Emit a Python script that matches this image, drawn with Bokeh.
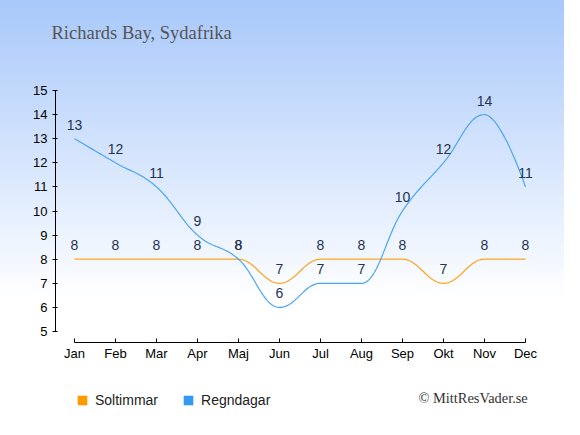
from bokeh.plotting import figure
from bokeh.layouts import column
from bokeh.models import (ColumnDataSource, FixedTicker, Label, Legend, LegendItem,
                          Range1d)
from bokeh.core.properties import value
from bokeh.embed import file_html
from bokeh.resources import INLINE

# ---- data ----
months = ["Jan", "Feb", "Mar", "Apr", "Maj", "Jun", "Jul", "Aug", "Sep", "Okt", "Nov", "Dec"]
soltimmar = [8, 8, 8, 8, 8, 7, 8, 8, 8, 7, 8, 8]
regndagar = [13, 12, 11, 9, 8, 6, 7, 7, 10, 12, 14, 11]
y_ticks = [5, 6, 7, 8, 9, 10, 11, 12, 13, 14, 15]
title_text = "Richards Bay, Sydafrika"
credit_text = "\u00a9 MittResVader.se"
series_names = ["Soltimmar", "Regndagar"]

ORANGE = "#ff9900"
BLUE = "#3399ee"
ORANGE_LINE = "#ffa21c"
BLUE_LINE = "#4ca5f0"
LABEL_COLOR = "#243352"
SANS = "Liberation Sans"
SERIF = "Liberation Serif"


def spline(xs, ys, smoothing=1.5, steps=24):
    """Smooth curve through the points (Highcharts-style cubic Bezier)."""
    n = len(xs)
    lc = [None] * n
    rc = [None] * n
    d = smoothing + 1
    for i in range(1, n - 1):
        px, py = xs[i], ys[i]
        lx, ly = xs[i - 1], ys[i - 1]
        nx, ny = xs[i + 1], ys[i + 1]
        lcx, lcy = (smoothing * px + lx) / d, (smoothing * py + ly) / d
        rcx, rcy = (smoothing * px + nx) / d, (smoothing * py + ny) / d
        if rcx != lcx:
            corr = ((rcy - lcy) * (rcx - px)) / (rcx - lcx) + py - rcy
            lcy += corr
            rcy += corr
        if lcy > ly and lcy > py:
            lcy = max(ly, py); rcy = 2 * py - lcy
        elif lcy < ly and lcy < py:
            lcy = min(ly, py); rcy = 2 * py - lcy
        if rcy > ny and rcy > py:
            rcy = max(ny, py); lcy = 2 * py - rcy
        elif rcy < ny and rcy < py:
            rcy = min(ny, py); lcy = 2 * py - rcy
        lc[i] = (lcx, lcy)
        rc[i] = (rcx, rcy)
    outx, outy = [xs[0]], [ys[0]]
    for i in range(1, n):
        p0 = (xs[i - 1], ys[i - 1])
        p3 = (xs[i], ys[i])
        p1 = rc[i - 1] or p0
        p2 = lc[i] or p3
        for k in range(1, steps + 1):
            t = k / steps
            a = (1 - t) ** 3
            b = 3 * (1 - t) ** 2 * t
            c = 3 * (1 - t) * t ** 2
            e = t ** 3
            outx.append(a * p0[0] + b * p1[0] + c * p2[0] + e * p3[0])
            outy.append(a * p0[1] + b * p1[1] + c * p2[1] + e * p3[1])
    return outx, outy


def strip(height):
    f = figure(width=564, height=height, output_backend="svg", toolbar_location=None,
               x_range=Range1d(0, 1), y_range=Range1d(0, 1),
               x_axis_location=None, y_axis_location=None,
               min_border_left=0, min_border_right=0, min_border_top=0,
               min_border_bottom=0)
    f.frame_align = False
    f.grid.visible = False
    f.outline_line_color = None
    return f


xs = list(range(len(months)))

# ---------------- title strip ----------------
TITLE_H = 60
t = strip(TITLE_H)
t.background_fill_color = None
t.border_fill_color = None
t.styles = {"background-image": "linear-gradient(to bottom, #a8c8fa 0px, #b9d3fb 60px)"}
t.add_layout(Label(x=51, y=TITLE_H - 32, x_units="screen", y_units="screen",
                   text=title_text, text_font=SERIF, text_font_size="18.5px",
                   text_color="#555555", text_baseline="middle"))

# ---------------- main chart ----------------
MAIN_H = 310
p = figure(width=564, height=MAIN_H, output_backend="svg", toolbar_location=None,
           x_range=Range1d(-0.463, 11.488), y_range=Range1d(4.544, 16.245),
           min_border_left=55, min_border_right=19, min_border_top=0,
           min_border_bottom=28)
p.frame_align = False
p.background_fill_color = None
p.border_fill_color = None
p.outline_line_color = None
p.styles = {"background-image": "linear-gradient(to bottom, #b9d3fb 0px, #ffffff 240px)"}
p.grid.visible = False

xa = p.xaxis[0]
xa.ticker = FixedTicker(ticks=xs)
xa.major_label_overrides = {i: m for i, m in enumerate(months)}
xa.bounds = (0, 11)
xa.major_tick_in = 4
xa.major_tick_out = 0
xa.minor_tick_line_color = None
xa.major_label_standoff = 3
xa.axis_line_color = "#000000"
xa.major_tick_line_color = "#000000"
xa.major_label_text_font = SANS
xa.major_label_text_font_size = "13px"
xa.major_label_text_color = "#000000"

ya = p.yaxis[0]
ya.ticker = FixedTicker(ticks=y_ticks)
ya.bounds = (5, 15)
ya.major_tick_in = 2
ya.major_tick_out = 3
ya.minor_tick_line_color = None
ya.major_label_standoff = 5
ya.axis_line_color = "#000000"
ya.major_tick_line_color = "#000000"
ya.major_label_text_font = SANS
ya.major_label_text_font_size = "13px"
ya.major_label_text_color = "#000000"

sx, sy = spline(xs, soltimmar)
rx, ry = spline(xs, regndagar)
p.line(sx, sy, line_color=ORANGE_LINE, line_width=1.2)
p.line(rx, ry, line_color=BLUE_LINE, line_width=1.2)

for vals in (soltimmar, regndagar):
    src = ColumnDataSource(dict(x=xs, y=vals, t=[str(v) for v in vals]))
    p.text("x", "y", text="t", source=src, text_align="center",
           text_baseline="alphabetic", y_offset=-14,
           text_font=value(SANS), text_font_size="14px", text_color=LABEL_COLOR)

# ---------------- legend strip ----------------
BOT_H = 419 - TITLE_H - MAIN_H
q = strip(BOT_H)
q.background_fill_color = "#ffffff"
q.border_fill_color = "#ffffff"

# legend proxies: the series themselves, which fall outside this strip's ranges
r_sol = q.rect(xs, soltimmar, width=1, height=1, fill_color=ORANGE, line_color=None)
r_reg = q.rect(xs, regndagar, width=1, height=1, fill_color=BLUE, line_color=None)
legend = Legend(items=[LegendItem(label=series_names[0], renderers=[r_sol]),
                       LegendItem(label=series_names[1], renderers=[r_reg])],
                orientation="horizontal", location=(76, 11),
                glyph_width=12, glyph_height=12, label_height=12,
                label_standoff=7, spacing=24, padding=0, margin=0,
                border_line_color=None, background_fill_alpha=0,
                label_text_font=SANS, label_text_font_size="14px",
                label_text_color="#222222")
q.add_layout(legend, "center")

q.add_layout(Label(x=418, y=419 - 397, x_units="screen", y_units="screen",
                   text=credit_text, text_font=SERIF, text_font_size="14.4px",
                   text_color="#333333", text_baseline="middle"))

page = column(t, p, q, spacing=0)
open("out.html", "w").write(file_html(page, INLINE))
